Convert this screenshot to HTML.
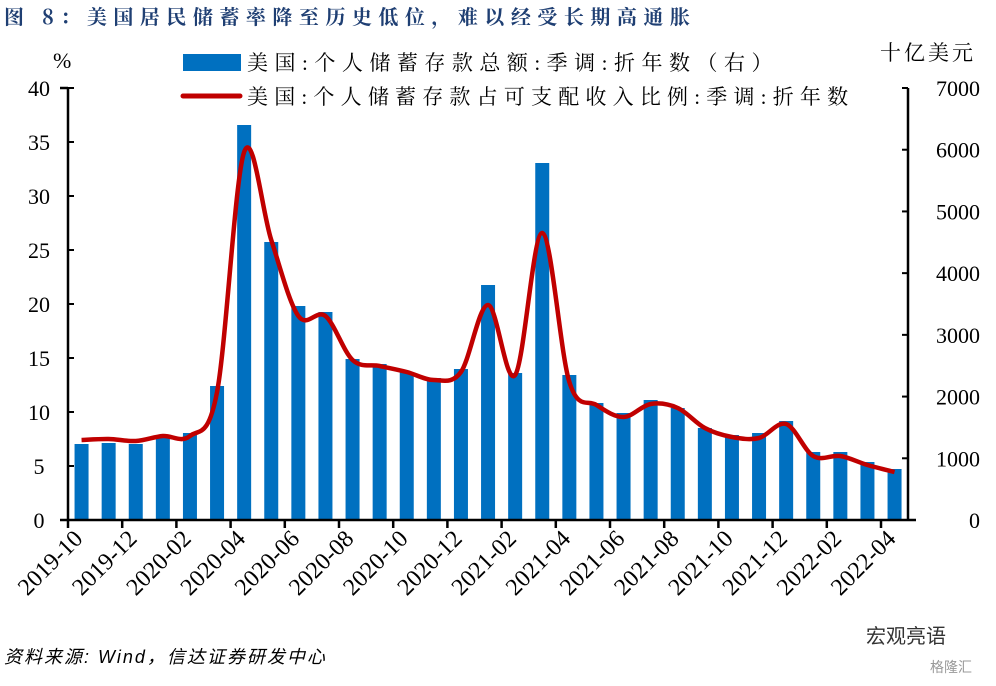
<!DOCTYPE html>
<html><head><meta charset="utf-8"><style>
body{margin:0;background:#fff;}
</style></head><body>
<svg width="996" height="681" viewBox="0 0 996 681" xmlns="http://www.w3.org/2000/svg" font-family="'Liberation Serif','Noto Serif CJK SC',serif">
<text x="4" y="24" font-size="20" font-weight="bold" fill="#1f3f73" letter-spacing="6.5" font-family="'Noto Serif CJK SC','Liberation Serif',serif">图 8：美国居民储蓄率降至历史低位，难以经受长期高通胀</text>
<text x="53" y="68" font-size="22">%</text>
<text x="880" y="60" font-size="21" letter-spacing="3">十亿美元</text>
<rect x="183" y="54" width="58" height="17" fill="#0070c0"/>
<text x="247" y="70" font-size="21" letter-spacing="6.5">美国:个人储蓄存款总额:季调:折年数（右）</text>
<line x1="183" y1="96" x2="240" y2="96" stroke="#c00000" stroke-width="5" stroke-linecap="round"/>
<text x="247" y="104" font-size="21" letter-spacing="6.2">美国:个人储蓄存款占可支配收入比例:季调:折年数</text>
<text x="4" y="663" font-size="18" font-style="italic" letter-spacing="2" font-family="'Liberation Sans','Noto Sans CJK SC',sans-serif">资料来源: Wind，信达证券研发中心</text>
<text x="866" y="643" font-size="20" fill="#333" font-family="'Liberation Sans','Noto Sans CJK SC',sans-serif">宏观亮语</text>
<text x="930" y="672" font-size="14" fill="#999" font-family="'Liberation Sans','Noto Sans CJK SC',sans-serif">格隆汇</text>
</svg>
<script>
const ns="http://www.w3.org/2000/svg";const s=document.querySelector('svg');
function el(t,a,txt){const e=document.createElementNS(ns,t);for(const k in a)e.setAttribute(k,a[k]);if(txt!==undefined)e.textContent=txt;s.appendChild(e);return e;}
const y0=520,y40=88,X0=68,dx=27.1;
for(let i=0;i<=8;i++){const y=y0-(y0-y40)*i/8;el('text',{x:39,y:y+8,'font-size':22,'text-anchor':'middle'},String(i*5));
el('line',{x1:68,x2:74,y1:y,y2:y,stroke:'#000','stroke-width':2});}
for(let i=0;i<=7;i++){const y=y0-(y0-y40)*i/7;el('line',{x1:902,x2:908,y1:y,y2:y,stroke:'#000','stroke-width':2});
el('text',{x:980,y:y+8,'font-size':22,'text-anchor':'end'},String(i*1000));}
const bars=[444,443,444,438,433,386,125,242,306,312,359,364,372,378,369,285,373,163,375,403,413,400,408,428,435,433,421,452,452,462,469];
bars.forEach((t,i)=>{const c=X0+dx*(i+0.5);el('rect',{x:c-7,y:t,width:14,height:y0-t,fill:'#0070c0'});});
const ln=[440,439,441,436,436,392,152,240,316,316,360,366,372,380,372,305,375,233,382,405,417,404,408,428,437,438,424,456,456,465,472];
const P=ln.map((y,i)=>[X0+dx*(i+0.5),y]);let d='M'+P[0][0]+','+P[0][1];
for(let i=0;i<P.length-1;i++){const p0=P[i-1]||P[i],p1=P[i],p2=P[i+1],p3=P[i+2]||P[i+1];
d+=` C${p1[0]+(p2[0]-p0[0])/6},${p1[1]+(p2[1]-p0[1])/6} ${p2[0]-(p3[0]-p1[0])/6},${p2[1]-(p3[1]-p1[1])/6} ${p2[0]},${p2[1]}`;}
el('path',{d:d,fill:'none',stroke:'#c00000','stroke-width':4.5,'stroke-linejoin':'round'});
el('line',{x1:68,x2:68,y1:88,y2:521,stroke:'#000','stroke-width':2.5});
el('line',{x1:908,x2:908,y1:88,y2:521,stroke:'#000','stroke-width':2.5});
el('line',{x1:60,x2:916,y1:520,y2:520,stroke:'#000','stroke-width':2.5});
el('line',{x1:60,x2:68,y1:88,y2:88,stroke:'#000','stroke-width':2.5});
const labs=['2019-10','2019-12','2020-02','2020-04','2020-06','2020-08','2020-10','2020-12','2021-02','2021-04','2021-06','2021-08','2021-10','2021-12','2022-02','2022-04'];
labs.forEach((l,i)=>{const x=X0+dx*2*i;el('line',{x1:x,x2:x,y1:520,y2:528,stroke:'#000','stroke-width':2.5});
el('text',{x:x+16,y:540,'font-size':24,'text-anchor':'end',transform:`rotate(-45 ${x+16} 540)`},l);});
</script>
</body></html>
